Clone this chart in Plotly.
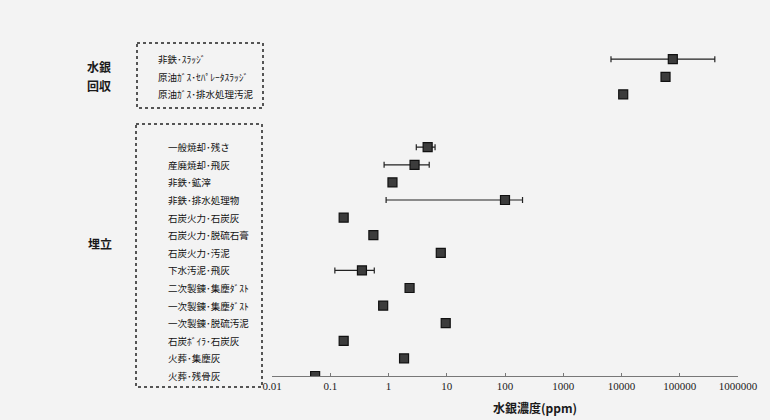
import plotly.graph_objects as go

# --- data ---
group_recovery = ["水銀", "回収"]
group_landfill = "埋立"

labels_recovery = [
    "非鉄･ｽﾗｯｼﾞ",
    "原油ｶﾞｽ･ｾﾊﾟﾚｰﾀｽﾗｯｼﾞ",
    "原油ｶﾞｽ･排水処理汚泥",
]
values_recovery = [76000, 57000, 10700]
err_lo_recovery = [6600, None, None]
err_hi_recovery = [400000, None, None]

labels_landfill = [
    "一般焼却･残さ",
    "産廃焼却･飛灰",
    "非鉄･鉱滓",
    "非鉄･排水処理物",
    "石炭火力･石炭灰",
    "石炭火力･脱硫石膏",
    "石炭火力･汚泥",
    "下水汚泥･飛灰",
    "二次製錬･集塵ﾀﾞｽﾄ",
    "一次製錬･集塵ﾀﾞｽﾄ",
    "一次製錬･脱硫汚泥",
    "石炭ﾎﾞｲﾗ･石炭灰",
    "火葬･集塵灰",
    "火葬･残骨灰",
]
values_landfill = [4.7, 2.8, 1.17, 100, 0.17, 0.55, 7.9, 0.35, 2.3, 0.81, 9.6, 0.17, 1.85, 0.055]
err_lo_landfill = [3.0, 0.84, None, 0.91, None, None, None, 0.12, None, None, None, None, None, None]
err_hi_landfill = [6.3, 5.0, None, 200, None, None, None, 0.57, None, None, None, None, None, None]

x_tickvals = [0.01, 0.1, 1, 10, 100, 1000, 10000, 100000, 1000000]
x_ticktext = ["0.01", "0.1", "1", "10", "100", "1000", "10000", "100000", "1000000"]
x_title = "水銀濃度(ppm)"

# --- layout helpers ---
W, H = 770, 420
L, R, T, B = 272, 32, 24, 44
pw = W - L - R
ph = H - T - B

def px_x(p):
    return (p - L) / pw

def px_y(p):
    return 1 - (p - T) / ph

GAP = 2
labels = labels_recovery + labels_landfill
values = values_recovery + values_landfill
err_lo = err_lo_recovery + err_lo_landfill
err_hi = err_hi_recovery + err_hi_landfill
ypos = list(range(len(labels_recovery))) + [
    len(labels_recovery) + GAP + i for i in range(len(labels_landfill))
]
ymax = ypos[-1]

fig = go.Figure()

ex, ey, eplus, eminus = [], [], [], []
for v, y, lo, hi in zip(values, ypos, err_lo, err_hi):
    if lo is not None:
        ex.append(v)
        ey.append(y)
        eplus.append(hi - v)
        eminus.append(v - lo)

fig.add_trace(go.Scatter(
    x=ex, y=ey, mode="markers",
    marker=dict(size=1, color="rgba(0,0,0,0)"),
    error_x=dict(type="data", symmetric=False, array=eplus, arrayminus=eminus,
                 color="#222222", thickness=1.2, width=3),
    hoverinfo="skip", showlegend=False,
))

fig.add_trace(go.Scatter(
    x=values, y=ypos, mode="markers",
    marker=dict(symbol="square", size=9, color="#3c3c3c",
                line=dict(color="#111111", width=1.2)),
    showlegend=False,
))

lab_font = dict(size=9.5, color="#111111", family="Noto Sans CJK JP")
annotations = []
for lab, y in zip(labels_recovery, ypos[:len(labels_recovery)]):
    annotations.append(dict(x=px_x(156), xref="paper", y=y, yref="y", text=lab,
                            showarrow=False, xanchor="left", yanchor="middle",
                            font=lab_font))
for lab, y in zip(labels_landfill, ypos[len(labels_recovery):]):
    annotations.append(dict(x=px_x(166), xref="paper", y=y, yref="y", text=lab,
                            showarrow=False, xanchor="left", yanchor="middle",
                            font=lab_font))

grp_font = dict(size=12, color="#1a1a1a", family="Noto Sans CJK JP")
for txt, py in zip(group_recovery, [66, 85]):
    annotations.append(dict(x=px_x(99), xref="paper", y=px_y(py), yref="paper",
                            text="<b>" + txt + "</b>", showarrow=False,
                            xanchor="center", yanchor="middle", font=grp_font))
annotations.append(dict(x=px_x(100), xref="paper", y=px_y(243), yref="paper",
                        text="<b>" + group_landfill + "</b>", showarrow=False,
                        xanchor="center", yanchor="middle", font=grp_font))
annotations.append(dict(x=px_x(535), xref="paper", y=px_y(407), yref="paper",
                        text="<b>" + x_title + "</b>", showarrow=False,
                        xanchor="center", yanchor="middle",
                        font=dict(size=12, color="#1a1a1a", family="Noto Sans CJK JP")))

shapes = [
    dict(type="rect", xref="paper", yref="paper",
         x0=px_x(137), x1=px_x(263), y0=px_y(43), y1=px_y(108),
         line=dict(color="#222222", width=1.5, dash="dot")),
    dict(type="rect", xref="paper", yref="paper",
         x0=px_x(136), x1=px_x(262), y0=px_y(124), y1=px_y(387),
         line=dict(color="#222222", width=1.5, dash="dot")),
]

fig.update_layout(
    width=W, height=H,
    margin=dict(l=L, r=R, t=T, b=B),
    paper_bgcolor="#f3f3f3", plot_bgcolor="#f3f3f3",
    annotations=annotations, shapes=shapes,
    xaxis=dict(type="log", range=[-2, 6], tickvals=x_tickvals, ticktext=x_ticktext,
               showgrid=False, zeroline=False, showline=True, linecolor="#777777",
               linewidth=1, ticks="inside", ticklen=3, tickcolor="#777777",
               tickfont=dict(family="Liberation Serif", size=11, color="#222222")),
    yaxis=dict(range=[ymax, -2], visible=False),
)

fig.write_html("out.html", config={"displayModeBar": False},
               post_script="document.body.style.margin='0';")
